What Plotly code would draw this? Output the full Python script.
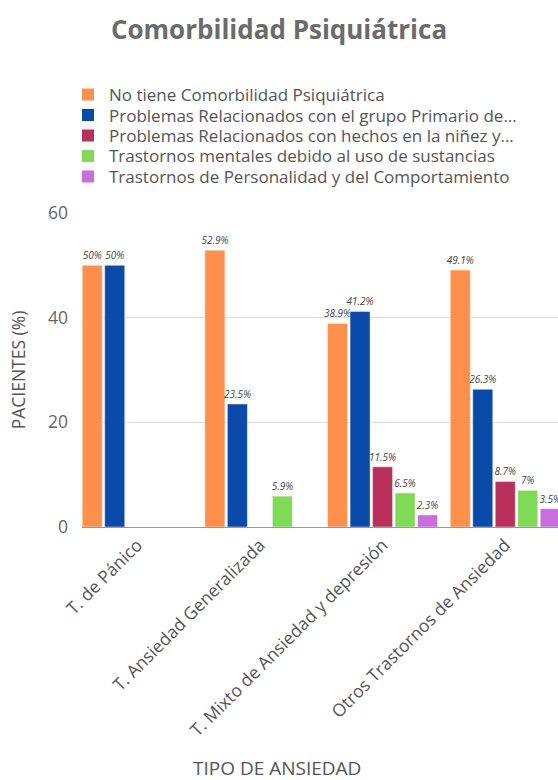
import plotly.graph_objects as go

categories = ["T. de Pánico", "T. Ansiedad Generalizada",
              "T. Mixto de Ansiedad y depresión", "Otros Trastornos de Ansiedad"]

series_names = [
    "No tiene Comorbilidad Psiquiátrica",
    "Problemas Relacionados con el grupo Primario de...",
    "Problemas Relacionados con hechos en la niñez y...",
    "Trastornos mentales debido al uso de sustancias",
    "Trastornos de Personalidad y del Comportamiento",
]

no_comorbilidad = [50, 52.9, 38.9, 49.1]
grupo_primario = [50, 23.5, 41.2, 26.3]
hechos_ninez = [None, None, 11.5, 8.7]
sustancias = [None, 5.9, 6.5, 7]
personalidad = [None, None, 2.3, 3.5]

series_values = [no_comorbilidad, grupo_primario, hechos_ninez, sustancias, personalidad]
colors = ["#ff8f4a", "#0a4aab", "#bb2f5b", "#7fdb56", "#c96ee0"]

y_ticks = [0, 20, 40, 60]

W, H = 558, 780
L, R, T, B = 82, 0, 213, 253
Y0, Y60 = H - B, T
FONT = "Open Sans"
TXT = "#555555"


def px_x(px):
    return (px - L) / (W - L - R)


def px_y(py):
    return (Y0 - py) / (Y0 - Y60)


fig = go.Figure()
for name, vals, col in zip(series_names, series_values, colors):
    fig.add_trace(go.Bar(
        x=categories, y=vals, name=name, showlegend=False,
        marker=dict(color=col, line=dict(color="rgba(255,255,255,0.45)", width=1)),
        text=["" if v is None else f"{v}%" for v in vals],
        textposition="outside", constraintext="none",
        textfont=dict(family=FONT, size=10, color="#444", style="italic"),
        cliponaxis=True,
    ))

# legend drawn as squares + text (to match compact spacing of the reference)
shapes = []
annotations = []
leg_y = [94.5, 115, 135.5, 156, 176.5]
for name, col, cy in zip(series_names, colors, leg_y):
    shapes.append(dict(type="rect", xref="paper", yref="paper",
                       x0=px_x(82), x1=px_x(94), y0=px_y(cy + 6), y1=px_y(cy - 6),
                       fillcolor=col, line=dict(width=0)))
    annotations.append(dict(text=name, xref="paper", yref="paper",
                            x=px_x(107), y=px_y(cy), xanchor="left", yanchor="middle",
                            showarrow=False,
                            font=dict(family=FONT, size=17, color=TXT)))

annotations.append(dict(text="TIPO DE ANSIEDAD", xref="paper", yref="paper",
                        x=px_x(276.5), y=px_y(768), xanchor="center", yanchor="middle",
                        showarrow=False,
                        font=dict(family=FONT, size=19, color=TXT)))

fig.update_layout(
    width=W, height=H,
    margin=dict(l=L, r=R, t=T, b=B, pad=0),
    paper_bgcolor="white", plot_bgcolor="white",
    font=dict(family=FONT, color=TXT),
    barmode="group", bargap=0.083, bargroupgap=0.11,
    showlegend=False,
    title=dict(text="<b>Comorbilidad Psiquiátrica</b>", x=0.5, xref="container",
               xanchor="center", y=1 - 30 / H, yanchor="middle", yref="container",
               font=dict(family=FONT, size=26, color="#6b6b6b")),
    xaxis=dict(range=[-0.45, 3.43], tickangle=-45, showgrid=False,
               showline=True, linecolor="#999", linewidth=1,
               tickfont=dict(family=FONT, size=17.5, color=TXT),
               ticks=""),
    yaxis=dict(range=[0, 60], tickvals=y_ticks, showgrid=True, gridcolor="#ddd",
               gridwidth=1, zeroline=False, showline=False, ticks="",
               ticklabelstandoff=13,
               tickfont=dict(family=FONT, size=17.5, color="#666"),
               title=dict(text="PACIENTES (%)", standoff=17,
                          font=dict(family=FONT, size=17.5, color=TXT))),
    shapes=shapes,
    annotations=annotations,
)

fig.write_html("out.html")
